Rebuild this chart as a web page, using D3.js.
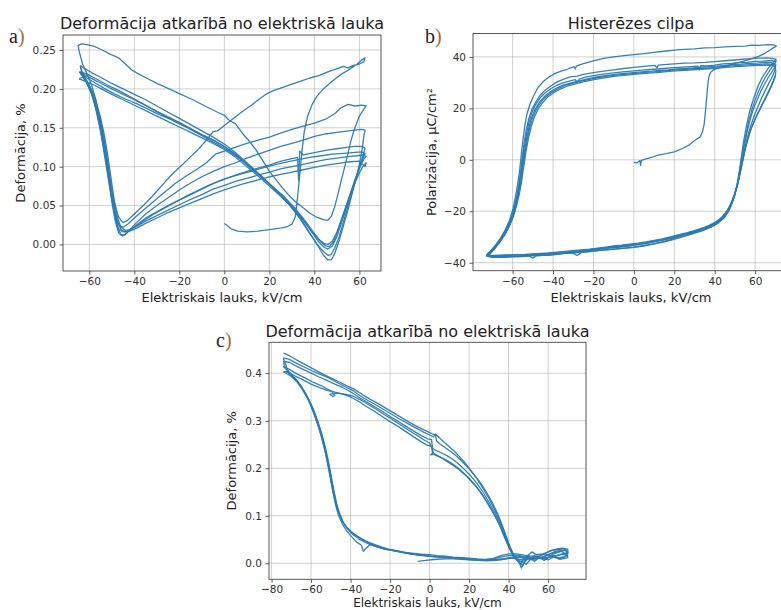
<!DOCTYPE html>
<html><head><meta charset="utf-8">
<script src="https://cdn.jsdelivr.net/npm/d3@7"></script>
<style>body{margin:0;background:#fff}svg{display:block}text{font-family:"DejaVu Sans",sans-serif}</style>
</head><body><svg id="chart" width="781" height="610"></svg>
<script>
// ---------- Panel a: strain vs field (butterfly) ----------
const aTitle = "Deformācija atkarībā no elektriskā lauka";
const aXLabel = "Elektriskais lauks, kV/cm";
const aYLabel = "Deformācija, %";
const aXTicks = [-60,-40,-20,0,20,40,60];
const aYTicks = [0,0.05,0.10,0.15,0.20,0.25];
const aLoop0 = [[0,0.027],[1,0.025],[3,0.02],[6,0.017],[10,0.016],[15,0.017],[20,0.019],[25,0.021],[28,0.023],[30,0.026],[31.5,0.035],[32.5,0.06],[33.5,0.09],[34.5,0.12],[35.5,0.145],[37,0.165],[39,0.18],[41,0.19],[44,0.2],[48,0.21],[52,0.219],[55,0.224],[57,0.228],[59,0.232],[61,0.237],[62.5,0.24],[62,0.235],[60,0.232],[57,0.23],[55,0.227],[53,0.229],[50,0.226],[46,0.222],[42,0.217],[38,0.214],[34,0.21],[30,0.206],[26,0.202],[22,0.198],[19,0.194],[16,0.188],[12,0.179],[8,0.171],[4,0.162],[0,0.153],[-3,0.146],[-5,0.145],[-8,0.134],[-12,0.121],[-16,0.11],[-20,0.099],[-24,0.088],[-28,0.075],[-32,0.062],[-36,0.05],[-40,0.039],[-43,0.031],[-45,0.028],[-47,0.035],[-49,0.055],[-51,0.085],[-53,0.12],[-55,0.155],[-57,0.185],[-59,0.205],[-61,0.219],[-63,0.232],[-64.5,0.248],[-65,0.256],[-63.5,0.258],[-61,0.257],[-58,0.255],[-55,0.251],[-51,0.245],[-47,0.24],[-44,0.232],[-41,0.224],[-38,0.219],[-34,0.213],[-30,0.207],[-26,0.202],[-20,0.194],[-14,0.186],[-8,0.177],[-3,0.17],[0,0.166],[2,0.16],[5,0.155],[8,0.143],[11,0.133],[14,0.122],[17,0.108],[20,0.094],[23,0.083],[26,0.072],[29,0.062],[32,0.054],[35,0.047],[38,0.04],[41,0.035],[44,0.032],[46,0.031],[47.5,0.036],[49,0.048],[50.5,0.065],[52,0.083],[53.5,0.1],[55,0.118],[56.5,0.136],[58,0.15],[60,0.165],[62,0.174],[63,0.178],[61,0.179],[58,0.178],[55,0.18],[52,0.176],[49,0.168],[45,0.161],[40,0.156],[35,0.152],[30,0.148],[25,0.143],[20,0.138],[15,0.134],[10,0.13],[5,0.125],[0,0.12],[-4,0.116],[-8,0.105],[-12,0.097],[-17,0.088],[-22,0.078],[-27,0.066],[-32,0.054],[-36,0.044],[-40,0.034],[-43,0.026],[-45,0.022],[-47,0.025],[-49,0.042],[-51,0.075],[-53,0.11],[-55,0.145],[-57,0.172],[-59,0.195],[-61.5,0.212],[-63.5,0.224],[-64,0.23]];
const aLoop1 = [[-64,0.23],[-62,0.226],[-59,0.221],[-55,0.215],[-50,0.207],[-45,0.2],[-40,0.193],[-35,0.186],[-30,0.178],[-25,0.17],[-20,0.162],[-15,0.154],[-10,0.146],[-5,0.138],[0,0.129],[5,0.118],[10,0.105],[15,0.092],[20,0.078],[25,0.064],[30,0.047],[35,0.028],[39,0.01],[42,-0.004],[44,-0.014],[46,-0.02],[47.5,-0.02],[49,-0.012],[51,0.005],[53,0.025],[55,0.045],[57,0.068],[59,0.09],[60.5,0.11],[61.5,0.128],[62,0.14],[62.5,0.147],[61,0.148],[58,0.147],[55,0.146],[50,0.144],[45,0.142],[40,0.139],[35,0.134],[30,0.13],[25,0.126],[20,0.121],[15,0.116],[10,0.111],[5,0.105],[0,0.1],[-5,0.094],[-10,0.087],[-15,0.079],[-20,0.07],[-25,0.06],[-30,0.05],[-35,0.039],[-39,0.028],[-42,0.019],[-44,0.013],[-45.5,0.011],[-47,0.015],[-48.5,0.03],[-50,0.055],[-51.5,0.085],[-53,0.115],[-54.5,0.14],[-56,0.163],[-58,0.185],[-60,0.2],[-62,0.212],[-64,0.222]];
const aLoop2 = [[-64,0.222],[-61,0.219],[-57,0.213],[-52,0.205],[-47,0.198],[-42,0.19],[-37,0.182],[-32,0.174],[-27,0.166],[-22,0.158],[-17,0.151],[-12,0.143],[-7,0.135],[-2,0.127],[3,0.118],[8,0.108],[13,0.096],[18,0.083],[23,0.069],[28,0.054],[33,0.036],[37,0.018],[41,0.001],[44,-0.009],[46,-0.014],[47.5,-0.013],[49,-0.005],[51,0.01],[53,0.03],[55,0.05],[57,0.07],[59,0.09],[61,0.108],[62,0.118],[62.5,0.124],[61,0.126],[58,0.126],[55,0.125],[50,0.123],[45,0.121],[40,0.118],[35,0.115],[33.5,0.12],[33,0.082],[32.5,0.112],[28,0.109],[24,0.106],[20,0.102],[15,0.098],[10,0.094],[5,0.089],[0,0.084],[-5,0.078],[-10,0.071],[-15,0.064],[-20,0.057],[-25,0.05],[-30,0.042],[-35,0.034],[-39,0.025],[-42,0.018],[-44.5,0.012],[-46,0.013],[-47.5,0.022],[-49,0.045],[-50.5,0.075],[-52,0.105],[-53.5,0.13],[-55,0.155],[-57,0.178],[-59,0.196],[-61,0.208],[-63,0.217],[-64.5,0.222]];
const aLoop3 = [[-64.5,0.222],[-62,0.218],[-58,0.212],[-54,0.206],[-50,0.2],[-45,0.193],[-40,0.186],[-35,0.179],[-30,0.171],[-25,0.164],[-20,0.157],[-15,0.149],[-10,0.141],[-5,0.134],[0,0.126],[5,0.116],[10,0.103],[15,0.091],[20,0.078],[25,0.065],[30,0.05],[35,0.032],[39,0.015],[42,0.003],[44.5,-0.004],[46,-0.006],[48,-0.002],[50,0.01],[52,0.027],[54,0.045],[56,0.064],[58,0.082],[60,0.098],[61.5,0.11],[62.5,0.117],[61,0.119],[57,0.118],[53,0.117],[48,0.116],[43,0.114],[38,0.112],[33,0.109],[28,0.106],[23,0.103],[18,0.099],[13,0.095],[8,0.091],[3,0.087],[-2,0.082],[-7,0.076],[-12,0.069],[-17,0.062],[-22,0.054],[-27,0.046],[-32,0.038],[-36,0.03],[-40,0.022],[-43,0.017],[-45,0.016],[-47,0.02],[-48.5,0.035],[-50,0.06],[-51.5,0.09],[-53,0.12],[-54.5,0.146],[-56,0.168],[-58,0.188],[-60,0.203],[-62,0.213],[-64,0.22]];
const aLoop4 = [[-64,0.22],[-61,0.214],[-57,0.207],[-53,0.2],[-49,0.194],[-44,0.187],[-39,0.181],[-34,0.174],[-29,0.167],[-24,0.161],[-19,0.154],[-14,0.147],[-9,0.14],[-4,0.133],[1,0.124],[6,0.113],[11,0.1],[16,0.088],[21,0.075],[26,0.063],[31,0.048],[36,0.03],[40,0.014],[43,0.003],[45,-0.002],[46.5,-0.003],[48.5,0.003],[50.5,0.018],[52.5,0.035],[54.5,0.053],[56.5,0.07],[58.5,0.087],[60.5,0.101],[62,0.11],[63,0.113],[62,0.115],[59,0.114],[55,0.113],[50,0.111],[45,0.109],[40,0.106],[35,0.103],[30,0.1],[25,0.097],[20,0.093],[15,0.089],[10,0.085],[5,0.081],[0,0.076],[-5,0.071],[-10,0.064],[-15,0.058],[-20,0.051],[-25,0.044],[-30,0.037],[-35,0.03],[-39,0.023],[-42,0.019],[-44,0.018],[-46,0.022],[-47.5,0.035],[-49,0.058],[-50.5,0.088],[-52,0.118],[-53.5,0.143],[-55,0.163],[-57,0.183],[-59,0.198],[-61,0.208],[-63,0.215],[-64.5,0.213]];
const aLoop5 = [[-64.5,0.213],[-62,0.21],[-58,0.205],[-54,0.199],[-50,0.193],[-45,0.186],[-40,0.179],[-35,0.172],[-30,0.165],[-25,0.158],[-20,0.151],[-15,0.144],[-10,0.137],[-5,0.13],[0,0.122],[5,0.112],[10,0.1],[15,0.088],[20,0.075],[25,0.062],[30,0.048],[35,0.031],[39,0.016],[42,0.006],[44.5,0.001],[46,0.0],[48,0.004],[50,0.016],[52,0.032],[54,0.048],[56,0.064],[58,0.079],[60,0.092],[61.5,0.1],[63,0.105],[62.5,0.1],[60,0.107],[55,0.106],[50,0.104],[45,0.102],[40,0.099],[35,0.096],[30,0.093],[25,0.09],[20,0.087],[15,0.083],[10,0.079],[5,0.075],[0,0.07],[-5,0.065],[-10,0.059],[-15,0.053],[-20,0.047],[-25,0.041],[-30,0.034],[-35,0.027],[-39,0.021],[-42,0.017],[-44,0.016],[-46,0.019],[-47.5,0.03],[-49,0.05],[-50.5,0.08],[-52,0.11],[-53.5,0.137],[-55,0.16],[-57,0.182],[-59,0.199],[-61,0.21],[-63,0.218],[-64,0.229]];

// ---------- Panel b: hysteresis loop ----------
const bTitle = "Histerēzes cilpa";
const bXLabel = "Elektriskais lauks, kV/cm";
const bYLabel = "Polarizācija, µC/cm²";
const bXTicks = [-60,-40,-20,0,20,40,60];
const bYTicks = [-40,-20,0,20,40];
const bLoop0 = [[0,-1],[1.5,-1.2],[3,-0.3],[3.3,-2.2],[3.7,-0.2],[6,0.4],[9,1],[12,1.8],[16,2.4],[20,3.1],[24,4.4],[27,5.6],[29,6.8],[31,8],[32.8,8.9],[34,11],[34.8,14],[35.3,18],[35.8,22],[36.2,26],[36.7,30],[37.2,32.5],[38,34],[39.5,35],[42,35.8],[46,36.5],[50,37.5],[54,38.3],[58,39.2],[62,40.3],[65,41.5],[67,42.5],[69,43.5],[70.5,44.2],[69,44.7],[66,44.8],[62,44.5],[58,44.6],[55,44.2],[50,44.1],[45,43.9],[40,43.6],[35,43.5],[30,43.1],[25,42.9],[20,42.6],[15,42.2],[10,41.8],[5,41.3],[0,40.9],[-5,40.5],[-10,40],[-15,39.4],[-20,38.5],[-25,37.4],[-28.5,36.4],[-29,35.3],[-29.6,36.2],[-33,35.2],[-36,34.5],[-39,33.6],[-42,32.2],[-45,30.3],[-47.5,28],[-49.5,25],[-51.3,21.9],[-53,17.5],[-54,13],[-55,7],[-55.8,1.5],[-56.5,-4],[-57.4,-9],[-58.5,-14],[-59.8,-19],[-61.5,-23.5],[-63.5,-27],[-66,-30.5],[-68.5,-33.2],[-71,-35.5],[-72.5,-36.8],[-72,-37.6],[-69,-37.8],[-65,-37.9],[-60,-37.7],[-55,-37.6],[-52,-37.3],[-50,-38.2],[-48,-37.2],[-45,-37.1],[-40,-36.9],[-35,-36.5],[-30,-36.3],[-25,-35.9],[-20,-35.5],[-15,-35.1],[-10,-34.7],[-5,-34.3],[0,-33.9],[5,-33.3],[10,-32.6],[15,-31.7],[20,-30.6],[25,-29.5],[30,-28.3],[35,-27.1],[38.6,-26],[42,-24.4],[45,-22.2],[47,-19.6],[48.5,-16.9],[50,-13.2],[51,-10],[52,-5.5],[52.8,-1],[53.6,3.5],[54.6,8.5],[55.8,13.5],[57,18],[58.5,22],[60,25.5],[61.6,29],[63.5,32],[65.5,34.5],[67.5,36.6],[69.5,38.2],[70.5,39]];
const bLoop1 = [[70.5,39],[69,39.3],[66,39.6],[62,39.5],[58,39.3],[54,39.1],[50,38.8],[45,38.5],[40,38.2],[35,37.9],[30,37.7],[25,37.6],[20,37.3],[15,37],[12,36.8],[11.5,35.6],[10.5,36.7],[5,36.3],[0,35.9],[-5,35.5],[-10,35],[-15,34.5],[-20,33.9],[-25,33.2],[-28,32.5],[-31.5,32.2],[-35,31.3],[-38,30.3],[-41,28.8],[-44,27],[-46.5,25],[-48.5,22.5],[-50.5,19.5],[-52,16],[-53.3,11.5],[-54.3,6.5],[-55.2,1],[-56,-4.5],[-56.9,-9.5],[-58,-14.5],[-59.4,-19.5],[-61,-23.8],[-63,-27.2],[-65.5,-30.6],[-68,-33.2],[-70.5,-35.3],[-72.5,-36.5],[-73,-37.4],[-70,-37.6],[-66,-37.6],[-61,-37.5],[-57,-37.4],[-53,-37.1],[-49,-37],[-44,-36.9],[-39,-36.6],[-34,-36.3],[-31,-36],[-28,-37.2],[-26,-36],[-21,-35.6],[-16,-35.1],[-11,-34.8],[-6,-34.5],[-1,-34.1],[4,-33.6],[9,-32.9],[14,-32.1],[19,-31.1],[24,-30],[29,-28.8],[34,-27.5],[38,-26.2],[41.5,-24.6],[44.5,-22.6],[46.8,-20],[48.6,-16.8],[50.2,-12.8],[51.4,-8.5],[52.4,-4],[53.3,0.5],[54.3,5],[55.5,10],[57,15.5],[58.5,19.8],[60,23.3],[61.6,26.5],[63.3,29.5],[65,32],[67,34.5],[68.8,36.5],[70,37.8],[70.5,38.3]];
const bLoop2 = [[70.5,38.3],[68,38.6],[64,38.4],[60,38.3],[56,37.9],[52,37.8],[48,37.5],[44,37.3],[40,36.8],[36,36.5],[33,36.6],[32.5,35],[31.5,36.4],[28,36.2],[24,36],[20,35.8],[16,35.6],[12,35.3],[8,35.1],[4,34.9],[0,34.6],[-4,34.3],[-8,34],[-12,33.6],[-16,33.2],[-20,32.7],[-24,32.1],[-27,31.4],[-28,30.2],[-29,31.2],[-32,30.6],[-35,29.9],[-38,29],[-41,27.7],[-44,26],[-46.5,24],[-48.8,21.2],[-50.6,18],[-52.1,14],[-53.4,9],[-54.5,3.8],[-55.4,-1.5],[-56.3,-7],[-57.3,-12],[-58.6,-17],[-60.1,-21.5],[-62,-25.3],[-64.4,-28.8],[-67,-32],[-69.5,-34.5],[-71.5,-36.2],[-72.6,-37],[-71,-37.4],[-67,-37.6],[-63,-37.4],[-58,-37.5],[-54,-37.1],[-50,-36.9],[-46,-37],[-42,-36.8],[-38,-36.5],[-34,-36.1],[-30,-35.8],[-26,-35.5],[-22,-35.2],[-18,-34.8],[-14,-34.3],[-10,-33.9],[-6,-33.7],[-2,-33.4],[2,-33],[6,-32.5],[10,-31.9],[14,-31.3],[18,-30.6],[22,-29.8],[26,-28.9],[30,-28],[34,-27],[38,-25.8],[41.5,-24.2],[44.5,-22.3],[46.8,-19.8],[48.7,-16.5],[50.3,-12.5],[51.6,-8],[52.6,-3.5],[53.6,1],[54.6,5.5],[55.8,10],[57.3,15],[59,19.5],[60.8,23],[62.6,26.3],[64.5,29.2],[66.5,32],[68.5,34.4],[70,36.2],[70.3,37]];
const bLoop3 = [[70.3,37],[68,37.8],[65,37.9],[61,37.6],[57,37.5],[53,37.2],[49,37],[45,36.7],[41,36.4],[37,36.2],[33,36],[29,35.7],[25,35.5],[21,35.3],[17,35],[13,34.8],[9,34.5],[5,34.3],[1,34],[-3,33.7],[-7,33.4],[-11,33],[-15,32.6],[-19,32.1],[-23,31.5],[-27,30.7],[-31,29.9],[-35,29],[-38,28],[-41,26.6],[-44,24.8],[-46.5,22.6],[-48.6,20],[-50.4,16.8],[-51.9,12.8],[-53.1,8],[-54.2,2.8],[-55.1,-2.5],[-56,-7.8],[-57.1,-12.8],[-58.4,-17.5],[-59.9,-21.8],[-61.8,-25.5],[-64,-28.8],[-66.6,-31.9],[-69.2,-34.4],[-71.3,-36.1],[-72.3,-36.9],[-70.5,-37.3],[-67,-37.3],[-63,-37.1],[-59,-37],[-55,-36.9],[-51,-36.8],[-47,-36.6],[-43,-36.4],[-39,-36.1],[-35,-35.9],[-31,-35.6],[-27,-35.3],[-23,-35],[-19,-34.6],[-15,-34.2],[-11,-33.8],[-7,-33.5],[-3,-33.1],[1,-32.8],[5,-32.3],[9,-31.7],[13,-31.1],[17,-30.4],[21,-29.6],[25,-28.8],[29,-27.9],[33,-26.9],[37,-25.8],[40.5,-24.5],[43.5,-22.7],[46,-20.4],[48.1,-17.4],[49.9,-13.7],[51.4,-9.4],[52.6,-5],[53.7,-0.5],[54.8,4],[56.1,8.5],[57.7,13],[59.5,17],[61.3,20.5],[63.1,23.8],[65,27],[66.8,29.8],[68.4,32.2],[69.6,34.3],[70.2,35.8]];
const bLoop4 = [[70.2,35.8],[69,37],[66,37.3],[62,37.1],[58,37],[54,36.8],[50,36.6],[46,36.3],[42,36.1],[38,35.8],[34,35.6],[30,35.4],[26,35.2],[22,35],[18,34.8],[14,34.5],[10,34.2],[6,34],[2,33.7],[-2,33.4],[-6,33.1],[-10,32.8],[-14,32.4],[-18,31.9],[-22,31.3],[-26,30.6],[-30,29.8],[-34,28.9],[-37,27.9],[-40,26.6],[-43,24.9],[-45.6,22.8],[-47.9,20.2],[-49.8,17],[-51.4,13],[-52.7,8.3],[-53.8,3],[-54.8,-2.3],[-55.7,-7.5],[-56.8,-12.5],[-58.1,-17.3],[-59.6,-21.6],[-61.5,-25.4],[-63.8,-28.9],[-66.4,-32],[-69,-34.6],[-71,-36.3],[-72,-37],[-70,-37.2],[-66,-37.1],[-62,-37],[-58,-36.9],[-54,-36.8],[-50,-36.6],[-46,-36.4],[-42,-36.2],[-38,-35.9],[-34,-35.6],[-30,-35.3],[-26,-35],[-22,-34.7],[-18,-34.3],[-14,-33.9],[-10,-33.5],[-6,-33.2],[-2,-32.8],[2,-32.4],[6,-31.9],[10,-31.3],[14,-30.7],[18,-30],[22,-29.2],[26,-28.4],[30,-27.5],[34,-26.5],[37.5,-25.4],[40.8,-24],[43.6,-22.2],[46,-19.9],[48,-17],[49.8,-13.3],[51.3,-9.2],[52.6,-4.8],[53.8,-0.3],[55,4],[56.4,8.3],[58.1,12.5],[60,16],[62,19.3],[64,22.5],[65.9,25.5],[67.6,28.2],[69,30.8],[70,33],[70.3,34.5]];
const bLoop5 = [[70.3,34.5],[69.5,36.3],[67,36.8],[63,36.7],[59,36.6],[55,36.4],[51,36.2],[47,36],[43,35.7],[39,35.5],[35,35.3],[31,35.1],[27,34.9],[23,34.7],[19,34.5],[15,34.2],[11,33.9],[7,33.7],[3,33.4],[-1,33.1],[-5,32.8],[-9,32.5],[-13,32.1],[-17,31.6],[-21,31],[-25,30.3],[-29,29.5],[-33,28.6],[-36.5,27.5],[-39.5,26.2],[-42.5,24.5],[-45,22.4],[-47.3,19.8],[-49.3,16.6],[-50.9,12.6],[-52.3,7.9],[-53.5,2.6],[-54.5,-2.7],[-55.5,-8],[-56.6,-13],[-58,-17.8],[-59.6,-22],[-61.6,-25.8],[-64,-29.3],[-66.7,-32.4],[-69.3,-35],[-71.3,-36.6],[-72.2,-37.4],[-70,-37.9],[-66,-37.9],[-61,-37.6],[-56,-37.5],[-51,-37.3],[-47,-37.2],[-43,-37],[-39,-36.7],[-35,-36.4],[-31,-36.1],[-27,-35.8],[-23,-35.4],[-19,-35],[-15,-34.6],[-11,-34.2],[-7,-33.9],[-3,-33.5],[1,-33.1],[5,-32.6],[9,-32],[13,-31.3],[17,-30.6],[21,-29.8],[25,-29],[29,-28.1],[33,-27.1],[37,-26],[40.5,-24.6],[43.5,-22.7],[46,-20.3],[48.1,-17.2],[49.9,-13.5],[51.4,-9.3],[52.7,-4.8],[53.9,-0.3],[55.1,4.2],[56.6,8.6],[58.4,12.8],[60.4,16.5],[62.5,19.8],[64.6,23],[66.5,26],[68.2,28.8],[69.5,31.3],[70.2,33]];

// ---------- Panel c: strain vs field ----------
const cTitle = "Deformācija atkarībā no elektriskā lauka";
const cXLabel = "Elektriskais lauks, kV/cm";
const cYLabel = "Deformācija, %";
const cXTicks = [-80,-60,-40,-20,0,20,40,60];
const cYTicks = [0,0.1,0.2,0.3,0.4];
const cLoop0 = [[-74,0.442],[-72,0.439],[-69,0.432],[-66,0.425],[-62,0.416],[-58,0.407],[-54,0.398],[-50,0.39],[-46,0.382],[-42,0.374],[-38,0.366],[-34,0.355],[-30,0.345],[-26,0.336],[-22,0.326],[-18,0.316],[-14,0.306],[-10,0.296],[-6,0.287],[-2,0.279],[0,0.275],[1.5,0.272],[3,0.27],[3.5,0.258],[5,0.252],[8,0.243],[11,0.234],[14,0.224],[17,0.212],[20,0.199],[23,0.184],[26,0.168],[29,0.148],[32,0.126],[34.5,0.104],[36.5,0.083],[38.5,0.06],[40.5,0.037],[42.5,0.018],[44.5,0.005],[46,-0.002],[47,0.003],[49,0.01],[52,0.007],[55,0.013],[58,0.02],[61,0.026],[64,0.03],[67,0.032],[70,0.03],[70,0.02],[67,0.018],[64,0.016],[60,0.013],[56,0.012],[52,0.015],[48,0.017],[44,0.02],[40,0.02],[36,0.016],[32,0.01],[28,0.008],[24,0.009],[20,0.011],[16,0.012],[12,0.013],[8,0.015],[4,0.016],[0,0.018],[-4,0.019],[-8,0.021],[-12,0.023],[-16,0.026],[-20,0.029],[-24,0.034],[-28,0.04],[-32,0.046],[-35,0.053],[-38,0.061],[-41,0.071],[-43.5,0.084],[-45.5,0.1],[-47,0.118],[-48.3,0.14],[-49.5,0.163],[-50.5,0.186],[-51.6,0.21],[-52.8,0.235],[-54.3,0.26],[-56,0.285],[-58,0.31],[-60.3,0.335],[-62.8,0.357],[-65.5,0.375],[-68.5,0.39],[-71.5,0.401],[-74,0.432]];
const cLoop1 = [[-74,0.432],[-71,0.429],[-67,0.42],[-63,0.412],[-59,0.404],[-55,0.397],[-51,0.39],[-47,0.381],[-43,0.372],[-39,0.364],[-35,0.352],[-31,0.342],[-27,0.333],[-23,0.323],[-19,0.313],[-15,0.303],[-11,0.294],[-7,0.285],[-3,0.276],[0,0.27],[2,0.266],[3,0.272],[4,0.268],[6,0.26],[9,0.249],[12,0.238],[15,0.225],[18,0.211],[21,0.195],[24,0.178],[27,0.158],[30,0.137],[33,0.113],[35.5,0.09],[37.5,0.069],[39.5,0.046],[41.5,0.025],[43.5,0.01],[45.5,0.002],[47,-0.005],[48.5,0.004],[50.5,0.012],[53,0.01],[56,0.016],[59,0.022],[62,0.027],[65,0.029],[68,0.031],[70,0.024],[68,0.012],[65,0.01],[62,0.018],[59,0.009],[56,0.01],[52,0.012],[48,0.014],[44,0.017],[40,0.016],[36,0.013],[32,0.009],[28,0.007],[24,0.008],[20,0.009],[16,0.011],[12,0.012],[8,0.013],[4,0.014],[0,0.015],[-4,0.017],[-8,0.019],[-12,0.022],[-16,0.025],[-20,0.028],[-24,0.032],[-28,0.037],[-31,0.043],[-34,0.05],[-37,0.058],[-40,0.067],[-42.5,0.078],[-44.5,0.092],[-46.2,0.11],[-47.6,0.132],[-48.8,0.155],[-49.9,0.18],[-51,0.205],[-52.2,0.23],[-53.7,0.256],[-55.5,0.282],[-57.5,0.307],[-59.8,0.332],[-62.3,0.354],[-65,0.373],[-68,0.389],[-71,0.402],[-73.5,0.415],[-74,0.425]];
const cLoop2 = [[-74,0.425],[-71,0.423],[-68,0.416],[-64,0.408],[-60,0.4],[-56,0.392],[-52,0.385],[-48,0.377],[-44,0.37],[-40,0.361],[-36,0.35],[-32,0.34],[-28,0.33],[-24,0.32],[-20,0.309],[-16,0.299],[-12,0.288],[-8,0.278],[-4,0.268],[-1,0.262],[1,0.26],[1.5,0.242],[3,0.238],[6,0.232],[9,0.226],[12,0.218],[15,0.208],[18,0.196],[21,0.183],[24,0.168],[27,0.15],[30,0.129],[33,0.107],[35.5,0.086],[37.5,0.066],[39.5,0.045],[41.5,0.026],[43.5,0.012],[45.5,0.004],[47,0.002],[49,-0.002],[51,0.008],[54,0.014],[57,0.011],[60,0.018],[63,0.024],[66,0.027],[69,0.028],[70,0.022],[67,0.02],[63,0.014],[60,0.007],[57,0.012],[53,0.009],[49,0.011],[45,0.013],[41,0.012],[37,0.008],[33,0.006],[29,0.005],[25,0.006],[21,0.007],[17,0.009],[13,0.011],[9,0.012],[5,0.013],[1,0.014],[-3,0.016],[-7,0.018],[-11,0.021],[-15,0.024],[-19,0.027],[-23,0.03],[-27,0.035],[-30,0.04],[-32.5,0.03],[-33.5,0.025],[-34.5,0.038],[-37,0.045],[-39.5,0.056],[-42,0.068],[-44.2,0.083],[-46,0.1],[-47.4,0.12],[-48.6,0.143],[-49.7,0.168],[-50.8,0.193],[-52,0.218],[-53.4,0.244],[-55,0.27],[-57,0.296],[-59.2,0.322],[-61.7,0.346],[-64.5,0.367],[-67.5,0.385],[-70.5,0.398],[-73,0.41],[-74,0.414]];
const cLoop3 = [[-74,0.414],[-71,0.408],[-67,0.398],[-63,0.39],[-59,0.381],[-55,0.374],[-52,0.367],[-49.5,0.362],[-48,0.353],[-49,0.351],[-50.5,0.356],[-47,0.358],[-43,0.356],[-39,0.352],[-35,0.344],[-31,0.334],[-27,0.324],[-23,0.313],[-19,0.303],[-15,0.292],[-11,0.281],[-7,0.271],[-3,0.26],[0,0.253],[1,0.245],[1.5,0.232],[0.5,0.228],[2,0.229],[5,0.224],[8,0.218],[11,0.211],[14,0.202],[17,0.191],[20,0.179],[23,0.165],[26,0.149],[29,0.13],[32,0.109],[34.5,0.089],[36.5,0.07],[38.5,0.05],[40.5,0.031],[42.5,0.015],[44.5,0.006],[46.5,0.004],[48,0.012],[50,0.016],[53,0.004],[55,0.01],[58,0.015],[61,0.02],[64,0.023],[67,0.025],[70,0.016],[66,0.012],[62,0.014],[58,0.011],[54,0.01],[50,0.012],[46,0.014],[42,0.013],[38,0.01],[34,0.008],[30,0.007],[26,0.007],[22,0.008],[18,0.01],[14,0.011],[10,0.012],[6,0.013],[2,0.014],[-2,0.016],[-6,0.018],[-10,0.02],[-14,0.023],[-18,0.026],[-22,0.03],[-26,0.034],[-30,0.039],[-33,0.045],[-36,0.052],[-39,0.061],[-41.5,0.072],[-43.7,0.086],[-45.5,0.104],[-47,0.125],[-48.2,0.148],[-49.3,0.172],[-50.4,0.197],[-51.6,0.222],[-53,0.248],[-54.6,0.273],[-56.5,0.298],[-58.7,0.323],[-61.2,0.345],[-64,0.364],[-67,0.381],[-70,0.393],[-72.5,0.4],[-74,0.403]];
const cLoop4 = [[-74,0.403],[-72,0.403],[-68,0.394],[-64,0.386],[-60,0.377],[-56,0.37],[-52,0.364],[-48,0.36],[-44,0.356],[-40,0.35],[-36,0.341],[-32,0.33],[-28,0.32],[-24,0.309],[-20,0.298],[-16,0.288],[-12,0.277],[-8,0.266],[-4,0.255],[-1,0.248],[1,0.246],[2,0.232],[3.5,0.228],[6,0.222],[9,0.214],[12,0.206],[15,0.197],[18,0.186],[21,0.173],[24,0.159],[27,0.142],[30,0.122],[33,0.1],[35.5,0.08],[37.5,0.06],[39.5,0.04],[41.5,0.022],[43.5,0.01],[45.5,0.001],[46.5,-0.01],[48,0.002],[50,0.018],[52,0.024],[55,0.015],[58,0.006],[60,0.012],[63,0.02],[66,0.025],[69,0.027],[70,0.012],[66,0.008],[62,0.015],[58,0.02],[54,0.018],[50,0.01],[46,0.008],[42,0.011],[38,0.009],[34,0.007],[30,0.006],[26,0.006],[22,0.007],[18,0.008],[14,0.009],[10,0.01],[6,0.009],[2,0.008],[-2,0.006],[-6,0.004]];

const panels = [
  {title:aTitle, xLabel:aXLabel, yLabel:aYLabel, xTicks:aXTicks, yTicks:aYTicks, yFmt:".2f",
   loops:[aLoop0,aLoop1,aLoop2,aLoop3,aLoop4,aLoop5], xDom:[-71.7,69.6], yDom:[-0.0342,0.2693],
   box:{l:63,r:381,t:35,b:271}, titleY:23, xLabBase:301.5, xLabSize:13, tickPad:3.5, yLabX:20, tag:"a", tagX:9, tagY:43},
  {title:bTitle, xLabel:bXLabel, yLabel:bYLabel, xTicks:bXTicks, yTicks:bYTicks, yFmt:"d",
   loops:[bLoop0,bLoop1,bLoop2,bLoop3,bLoop4,bLoop5], xDom:[-79.6,77.0], yDom:[-43.1,49.1],
   box:{l:473,r:789.5,t:33.5,b:270.7}, titleY:23, xLabBase:301.5, xLabSize:13, tickPad:3.5, yLabX:431.5, tag:"b", tagX:425, tagY:43},
  {title:cTitle, xLabel:cXLabel, yLabel:cYLabel, xTicks:cXTicks, yTicks:cYTicks, yFmt:".1f",
   loops:[cLoop0,cLoop1,cLoop2,cLoop3,cLoop4], xDom:[-81.3,79.2], yDom:[-0.0337,0.465],
   box:{l:269,r:586,t:342.3,b:579.3}, titleY:331.5, xLabBase:606.5, xLabSize:12, tickPad:2.5, yLabX:231.5, tag:"c", tagX:216, tagY:347}
];

const svg = d3.select("#chart");
svg.append("rect").attr("width",781).attr("height",610).attr("fill","#fff");

panels.forEach(p => {
  const B = p.box;
  const x = d3.scaleLinear().domain(p.xDom).range([B.l, B.r]);
  const y = d3.scaleLinear().domain(p.yDom).range([B.b, B.t]);
  const g = svg.append("g");
  g.selectAll(".gx").data(p.xTicks).join("line")
    .attr("x1",d=>x(d)).attr("x2",d=>x(d)).attr("y1",B.t).attr("y2",B.b)
    .attr("stroke","#b0b0b0").attr("stroke-opacity",0.6).attr("stroke-width",1);
  g.selectAll(".gy").data(p.yTicks).join("line")
    .attr("y1",d=>y(d)).attr("y2",d=>y(d)).attr("x1",B.l).attr("x2",B.r)
    .attr("stroke","#b0b0b0").attr("stroke-opacity",0.6).attr("stroke-width",1);
  const line = d3.line().x(d=>x(d[0])).y(d=>y(d[1]));
  g.selectAll(".loop").data(p.loops).join("path")
    .attr("d",line).attr("fill","none").attr("stroke","#2a7ab5")
    .attr("stroke-width",1.3).attr("stroke-linejoin","round").attr("stroke-opacity",0.95);
  const xa = g.append("g").attr("transform",`translate(0,${B.b})`)
    .call(d3.axisBottom(x).tickValues(p.xTicks).tickFormat(d3.format("d")).tickSize(3.5).tickPadding(p.tickPad));
  const ya = g.append("g").attr("transform",`translate(${B.l},0)`)
    .call(d3.axisLeft(y).tickValues(p.yTicks).tickFormat(d3.format(p.yFmt)).tickSize(3.5).tickPadding(3.5));
  [xa,ya].forEach(a=>{
    a.select(".domain").remove();
    a.selectAll("line").attr("stroke","#333").attr("stroke-width",0.8);
    a.selectAll("text").attr("fill","#333").style("font-size","10.5px").style("font-family","DejaVu Sans, sans-serif");
  });
  g.append("rect").attr("x",B.l).attr("y",B.t).attr("width",B.r-B.l).attr("height",B.b-B.t)
    .attr("fill","none").attr("stroke","#444").attr("stroke-width",0.9);
  const cx = (B.l+B.r)/2;
  const tcx = p.tag==="b" ? 631 : cx;
  g.append("text").attr("x",tcx).attr("y",p.titleY).attr("dy","0.35em").attr("text-anchor","middle")
    .style("font-size","16px").attr("fill","#222").text(p.title);
  g.append("text").attr("x",tcx).attr("y",p.xLabBase).attr("text-anchor","middle")
    .style("font-size",p.xLabSize+"px").attr("fill","#222").text(p.xLabel);
  g.append("text").attr("transform",`translate(${p.yLabX},${(B.t+B.b)/2}) rotate(-90)`)
    .attr("dy","0.35em").attr("text-anchor","middle")
    .style("font-size","13px").attr("fill","#222").text(p.yLabel);
  const tg = g.append("text").attr("x",p.tagX).attr("y",p.tagY)
    .style("font-family","'Liberation Serif','DejaVu Serif',serif").style("font-size","20px");
  tg.append("tspan").attr("fill","#2a2018").text(p.tag);
  tg.append("tspan").attr("fill","#a8692e").text(")");
});
</script></body></html>
